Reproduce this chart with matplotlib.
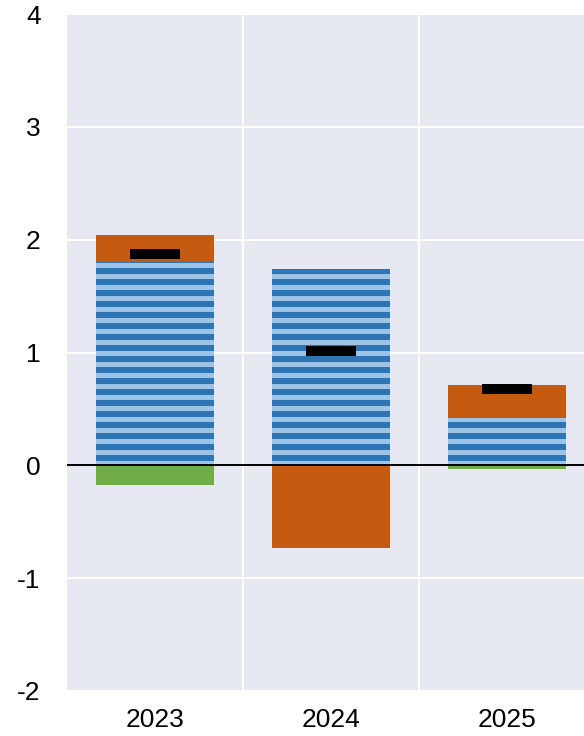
import numpy as np
import matplotlib
matplotlib.use("Agg")
import matplotlib.pyplot as plt

# Contributions by year (percentage points)
years = ["2023", "2024", "2025"]
blue_part = [1.80, 1.74, 0.42]
orange_part = [0.24, -0.73, 0.29]
green_part = [-0.17, 0.00, -0.03]
total = [1.87, 1.01, 0.68]
y_ticks = [-2, -1, 0, 1, 2, 3, 4]

DARK_BLUE = "#2E75B6"
LIGHT_BLUE = "#9DC3E6"
ORANGE = "#C55A11"
GREEN = "#70AD47"
BG = "#E6E9F2"

plt.rcParams["font.family"] = ["Liberation Sans", "DejaVu Sans"]

fig = plt.figure(figsize=(5.84, 7.36), dpi=100)
ax = fig.add_axes([67 / 584, 45 / 736, 1 - 67 / 584, (691 - 14) / 736])
ax.set_facecolor(BG)

x = np.arange(len(years))
width = 0.67

pos_base = np.zeros(len(years))
neg_base = np.zeros(len(years))


def stack(values, color, zorder=2):
    vals = np.asarray(values, dtype=float)
    bottoms = np.where(vals >= 0, pos_base, neg_base)
    bars = ax.bar(x, vals, width, bottom=bottoms, color=color,
                  linewidth=0, zorder=zorder)
    pos_base[:] += np.where(vals > 0, vals, 0)
    neg_base[:] += np.where(vals < 0, vals, 0)
    return bars, bottoms


# Striped blue segment: light fill with dark horizontal bands
blue_bars, _ = stack(blue_part, LIGHT_BLUE)
period, band, phase = 0.0975, 0.053, 0.038
for xi, patch, top in zip(x, blue_bars.patches, blue_part):
    starts = np.arange(phase - period, top + period, period)
    stripes = ax.bar(np.full(starts.size, xi), band, width, bottom=starts,
                     color=DARK_BLUE, linewidth=0, zorder=2.1)
    for s in stripes.patches:
        s.set_clip_path(patch)

stack(orange_part, ORANGE)
stack(green_part, GREEN)

# Net total markers
ax.plot(x, total, linestyle="none", marker="_", markersize=36,
        markeredgewidth=7.2, color="black", zorder=4)

ax.axhline(0, color="black", linewidth=1.4, zorder=3)

ax.set_xlim(-0.5, 2.44)
ax.set_ylim(-2, 4)
ax.set_yticks(y_ticks)
ax.set_yticklabels([str(t) for t in y_ticks])
ax.set_xticks(x)
ax.set_xticklabels(years)
ax.set_xticks([0.5, 1.5], minor=True)

ax.grid(axis="y", which="major", color="white", linewidth=1.5, zorder=0)
ax.grid(axis="x", which="minor", color="white", linewidth=1.5, zorder=0)
ax.set_axisbelow(True)

ax.tick_params(axis="both", which="both", length=0, labelsize=19)
ax.tick_params(axis="y", pad=19)
ax.tick_params(axis="x", pad=12)
for sp in ax.spines.values():
    sp.set_visible(False)

fig.savefig("out.png", dpi=100, facecolor="white")
